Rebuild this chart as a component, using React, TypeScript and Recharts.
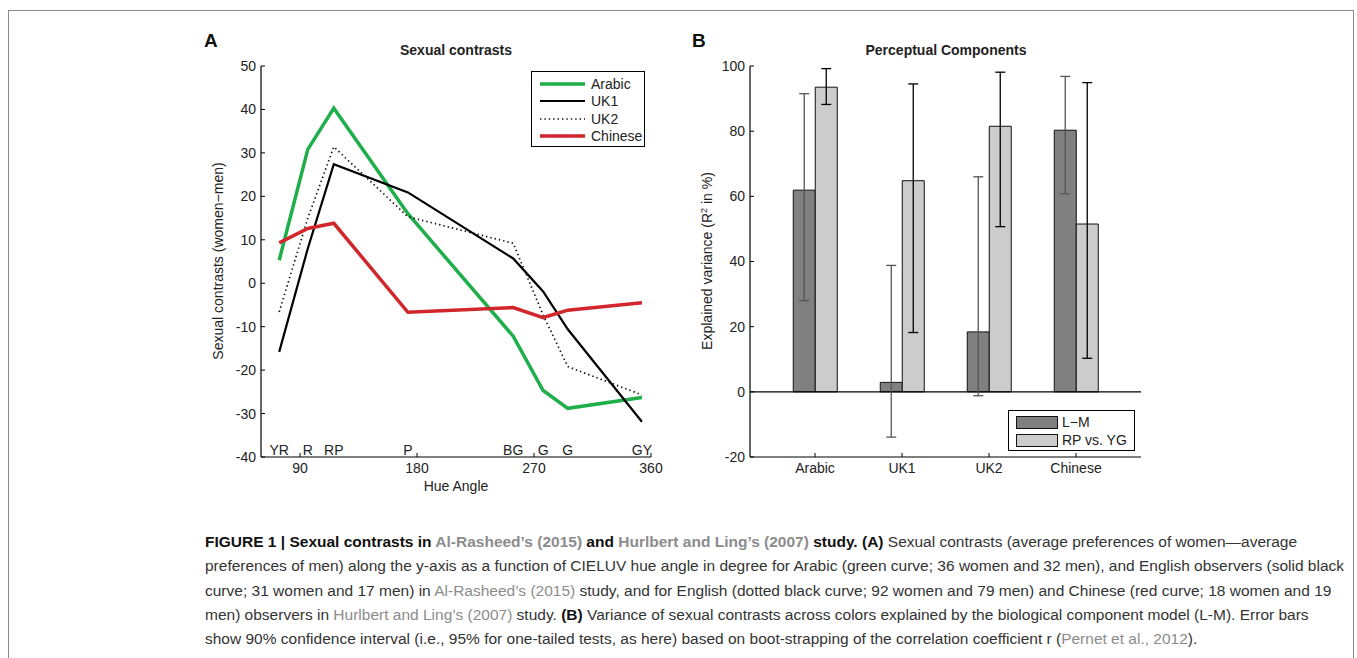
import React from 'react';
import {
  LineChart,
  Line,
  XAxis,
  YAxis,
  ReferenceDot,
  BarChart,
  Bar,
  ErrorBar,
  ReferenceLine,
} from 'recharts';

// Panel A: sexual contrasts by hue angle
const hueAngles = [74, 96, 116, 173, 254, 277, 296, 353];
const hueNames = ['YR', 'R', 'RP', 'P', 'BG', 'G', 'G', 'GY'];
const arabic = [5.3, 30.8, 40.3, 16, -12.2, -24.7, -28.8, -26.3];
const uk1 = [-15.8, 8, 27.4, 20.9, 5.7, -1.9, -10.6, -31.9];
const uk2 = [-6.6, 15, 31.4, 15.3, 9.2, -7.3, -19.2, -25.7];
const chinese = [9.3, 12.6, 13.8, -6.7, -5.6, -7.9, -6.2, -4.5];
const hueTicks = [90, 180, 270, 360];
const contrastTicks = [-40, -30, -20, -10, 0, 10, 20, 30, 40, 50];

// Panel B: perceptual components
const groups = ['Arabic', 'UK1', 'UK2', 'Chinese'];
const lmValue = [61.9, 2.9, 18.4, 80.3];
const lmLow = [28.0, -13.9, -1.2, 60.8];
const lmHigh = [91.5, 38.8, 66.0, 96.8];
const rpValue = [93.5, 64.8, 81.5, 51.5];
const rpLow = [88.2, 18.2, 50.7, 10.3];
const rpHigh = [99.2, 94.5, 98.1, 94.9];
const varianceTicks = [-20, 0, 20, 40, 60, 80, 100];

const FONT = '"Liberation Sans", Arial, Helvetica, sans-serif';
const TXT = '#222';

const lineSeries = [
  { key: 'Arabic', values: arabic, color: '#1eae4a', width: 3.5, dash: undefined },
  { key: 'UK1', values: uk1, color: '#000', width: 2.2, dash: undefined },
  { key: 'UK2', values: uk2, color: '#111', width: 1.7, dash: '1.4 3' },
  { key: 'Chinese', values: chinese, color: '#d1262c', width: 3.5, dash: undefined },
];

const barSeries = [
  { key: 'lm', name: 'L\u2212M', fill: '#808080', err: '#555' },
  { key: 'rp', name: 'RP vs. YG', fill: '#cccccc', err: '#000' },
];

const lineData = hueAngles.map((h, i) => ({
  hue: h,
  Arabic: arabic[i],
  UK1: uk1[i],
  UK2: uk2[i],
  Chinese: chinese[i],
}));

const barData = groups.map((g, i) => ({
  name: g,
  lm: lmValue[i],
  lmErr: [lmValue[i] - lmLow[i], lmHigh[i] - lmValue[i]],
  rp: rpValue[i],
  rpErr: [rpValue[i] - rpLow[i], rpHigh[i] - rpValue[i]],
}));

const tickStyle = { fill: TXT, fontSize: 14, fontFamily: FONT };

const caption = [
  [
    ['b', 'FIGURE 1 | Sexual contrasts in '],
    ['bg', 'Al-Rasheed\u2019s (2015)'],
    ['b', ' and '],
    ['bg', 'Hurlbert and Ling\u2019s (2007)'],
    ['b', ' study. (A)'],
    ['r', ' Sexual contrasts (average preferences of women\u2014average'],
  ],
  [['r', 'preferences of men) along the y-axis as a function of CIELUV hue angle in degree for Arabic (green curve; 36 women and 32 men), and English observers (solid black']],
  [
    ['r', 'curve; 31 women and 17 men) in '],
    ['g', 'Al-Rasheed\u2019s (2015)'],
    ['r', ' study, and for English (dotted black curve; 92 women and 79 men) and Chinese (red curve; 18 women and 19'],
  ],
  [
    ['r', 'men) observers in '],
    ['g', 'Hurlbert and Ling\u2019s (2007)'],
    ['r', ' study. '],
    ['b', '(B)'],
    ['r', ' Variance of sexual contrasts across colors explained by the biological component model (L-M). Error bars'],
  ],
  [
    ['r', 'show 90% confidence interval (i.e., 95% for one-tailed tests, as here) based on boot-strapping of the correlation coefficient r ('],
    ['g', 'Pernet et al., 2012'],
    ['r', ').'],
  ],
];

function segStyle(kind: string) {
  const bold = kind === 'b' || kind === 'bg';
  const gray = kind === 'g' || kind === 'bg';
  return {
    fontWeight: bold ? 700 : 400,
    fill: gray ? '#8c8c8c' : bold ? '#111' : '#333',
  };
}

export default function App() {
  return (
    <div
      style={{
        position: 'absolute',
        left: 0,
        top: 0,
        width: 1357,
        height: 658,
        overflow: 'hidden',
        background: '#fff',
        fontFamily: FONT,
      }}
    >
      {/* figure frame */}
      <div
        style={{
          position: 'absolute',
          left: 8,
          top: 10,
          width: 1346,
          height: 700,
          border: '1.5px solid #8a8a8a',
          boxSizing: 'border-box',
        }}
      />

      {/* Panel A */}
      <div style={{ position: 'absolute', left: 150, top: 20 }}>
        <LineChart
          width={520}
          height={490}
          data={lineData}
          margin={{ top: 46, right: 19, bottom: 23, left: 71 }}
        >
          <XAxis
            dataKey="hue"
            type="number"
            domain={[60, 360]}
            ticks={hueTicks}
            interval={0}
            height={30}
            tickSize={-4}
            tickMargin={10}
            tick={tickStyle}
            axisLine={{ stroke: '#000', strokeWidth: 1.2 }}
            tickLine={{ stroke: '#000' }}
          />
          <YAxis
            type="number"
            domain={[-40, 50]}
            ticks={contrastTicks}
            interval={0}
            width={40}
            tickSize={-4}
            tickMargin={9}
            tick={tickStyle}
            axisLine={{ stroke: '#000', strokeWidth: 1.2 }}
            tickLine={{ stroke: '#000' }}
          />
          {lineSeries.map((s) => (
            <Line
              key={s.key}
              dataKey={s.key}
              type="linear"
              stroke={s.color}
              strokeWidth={s.width}
              strokeDasharray={s.dash}
              dot={false}
              isAnimationActive={false}
            />
          ))}
          {hueAngles.map((h, i) => (
            <ReferenceDot
              key={'hn' + i}
              x={h}
              y={-40}
              r={0}
              stroke="none"
              fill="none"
              label={{
                value: hueNames[i],
                position: 'top',
                offset: 2,
                fill: TXT,
                fontSize: 14,
                fontFamily: FONT,
              }}
            />
          ))}
        </LineChart>
      </div>

      {/* Panel A legend */}
      <div
        style={{
          position: 'absolute',
          left: 531,
          top: 71,
          width: 114,
          height: 76,
          border: '1.5px solid #000',
          boxSizing: 'border-box',
          background: '#fff',
          paddingTop: 3,
        }}
      >
        {lineSeries.map((s) => (
          <div key={s.key} style={{ display: 'flex', alignItems: 'center', height: 17.5 }}>
            <svg width={56} height={10} style={{ marginLeft: 3 }}>
              <line
                x1={5}
                x2={50}
                y1={5}
                y2={5}
                stroke={s.color}
                strokeWidth={s.width}
                strokeDasharray={s.dash}
              />
            </svg>
            <span style={{ fontSize: 14, color: TXT }}>{s.key}</span>
          </div>
        ))}
      </div>

      {/* Panel B */}
      <div style={{ position: 'absolute', left: 640, top: 20 }}>
        <BarChart
          width={520}
          height={490}
          data={barData}
          margin={{ top: 46, right: 19, bottom: 23, left: 70 }}
          barCategoryGap="25%"
          barGap={0}
        >
          <XAxis
            dataKey="name"
            padding={{ left: 21.5, right: 21.5 }}
            height={30}
            interval={0}
            tickSize={-4}
            tickMargin={10}
            tick={tickStyle}
            axisLine={{ stroke: '#000', strokeWidth: 1.2 }}
            tickLine={{ stroke: '#000' }}
          />
          <YAxis
            type="number"
            domain={[-20, 100]}
            ticks={varianceTicks}
            interval={0}
            width={40}
            tickSize={-4}
            tickMargin={9}
            tick={tickStyle}
            axisLine={{ stroke: '#000', strokeWidth: 1.2 }}
            tickLine={{ stroke: '#000' }}
          />
          <ReferenceLine y={0} stroke="#000" strokeWidth={1.2} />
          {barSeries.map((s) => (
            <Bar
              key={s.key}
              dataKey={s.key}
              name={s.name}
              fill={s.fill}
              stroke="#111"
              strokeWidth={1}
              isAnimationActive={false}
            >
              <ErrorBar
                dataKey={s.key + 'Err'}
                width={5}
                stroke={s.err}
                strokeWidth={1.3}
                isAnimationActive={false}
              />
            </Bar>
          ))}
        </BarChart>
      </div>

      {/* Panel B legend */}
      <div
        style={{
          position: 'absolute',
          left: 1008,
          top: 410,
          width: 127,
          height: 41,
          border: '1.5px solid #000',
          boxSizing: 'border-box',
          background: '#fff',
          paddingTop: 2,
        }}
      >
        {barSeries.map((s) => (
          <div key={s.key} style={{ display: 'flex', alignItems: 'center', height: 18 }}>
            <div
              style={{
                marginLeft: 7,
                width: 42,
                height: 13,
                background: s.fill,
                border: '1px solid #111',
                boxSizing: 'border-box',
              }}
            />
            <span style={{ marginLeft: 4, fontSize: 14, color: TXT }}>{s.name}</span>
          </div>
        ))}
      </div>

      {/* titles, axis labels, caption */}
      <svg
        width={1357}
        height={658}
        style={{ position: 'absolute', left: 0, top: 0, pointerEvents: 'none' }}
        fontFamily={FONT}
      >
        <text x={204} y={47} fontSize={19} fontWeight={700} fill="#111">A</text>
        <text x={692} y={47} fontSize={19} fontWeight={700} fill="#111">B</text>
        <text x={456} y={55} fontSize={14} fontWeight={700} fill={TXT} textAnchor="middle">
          Sexual contrasts
        </text>
        <text x={946} y={55} fontSize={14} fontWeight={700} fill={TXT} textAnchor="middle">
          Perceptual Components
        </text>
        <text
          x={0}
          y={0}
          fontSize={14}
          fill={TXT}
          textAnchor="middle"
          transform="translate(223,261) rotate(-90)"
        >
          Sexual contrasts (women{'\u2212'}men)
        </text>
        <text x={456} y={491} fontSize={14} fill={TXT} textAnchor="middle">
          Hue Angle
        </text>
        <text
          x={0}
          y={0}
          fontSize={14}
          fill={TXT}
          textAnchor="middle"
          transform="translate(712,261) rotate(-90)"
        >
          Explained variance (R
          <tspan dy={-5} fontSize={9}>2</tspan>
          <tspan dy={5}> in %)</tspan>
        </text>
        {caption.map((line, li) => (
          <text
            key={li}
            x={205}
            y={547 + li * 24.3}
            fontSize={15.5}
            style={{ whiteSpace: 'pre' }}
          >
            {line.map(([k, t], si) => (
              <tspan key={si} {...segStyle(k)}>
                {t}
              </tspan>
            ))}
          </text>
        ))}
      </svg>
    </div>
  );
}
